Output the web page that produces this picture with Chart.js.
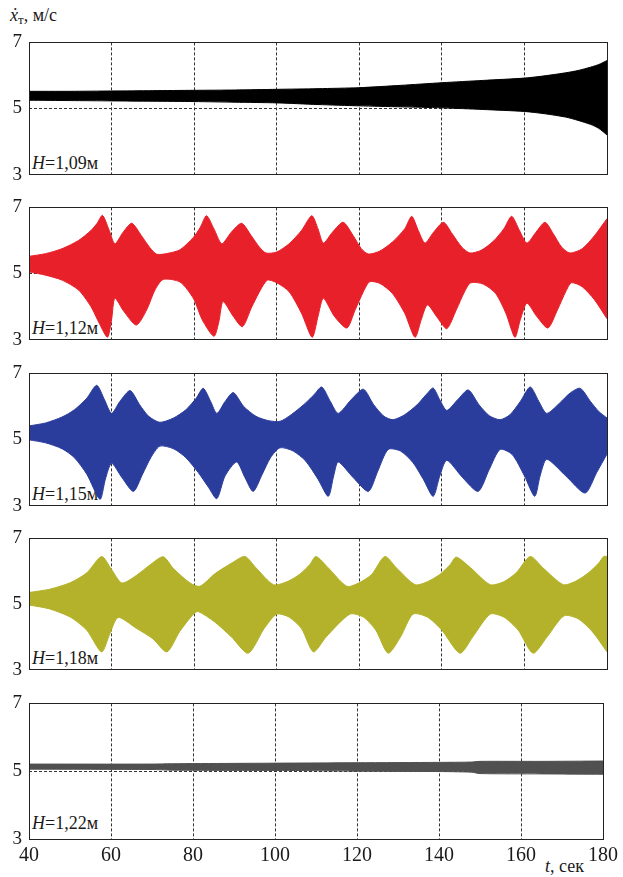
<!DOCTYPE html>
<html>
<head>
<meta charset="utf-8">
<script src="https://cdn.jsdelivr.net/npm/chart.js@4.4.1/dist/chart.umd.min.js"></script>
<style>
  body { margin: 0; background: #fff; width: 623px; height: 877px; position: relative; overflow: hidden;
         font-family: "Liberation Serif", "Times New Roman", "DejaVu Serif", serif; color: #1a1a1a; }
  .panel { position: absolute; left: 0; width: 623px; }
  .panel canvas { position: relative; z-index: 1; display: block; }
  .hlabel { position: absolute; left: 32px; font-size: 18px; line-height: 18px; z-index: 0; white-space: nowrap; }
  #ytitle { position: absolute; left: 10px; top: 5px; font-size: 18px; white-space: nowrap; }
  #ytitle sub { font-size: 13px; vertical-align: -3px; }
  #xtitle { position: absolute; left: 545px; top: 856px; font-size: 18px; white-space: nowrap; }
</style>
</head>
<body>
<div id="ytitle"><i>ẋ</i><sub>т</sub>, м/с</div>
<div id="xtitle"><i>t</i>, сек</div>
<script>
// envelope of the velocity oscillation, H = 1,09 м
const tBlack     = [40, 50, 60, 70, 80, 90, 100, 110, 120, 130, 140, 150, 160, 165, 170, 173, 176, 178, 180];
const blackUpper = [5.52, 5.52, 5.53, 5.54, 5.55, 5.56, 5.58, 5.60, 5.63, 5.70, 5.78, 5.85, 5.92, 5.99, 6.08, 6.15, 6.25, 6.33, 6.45];
const blackLower = [5.25, 5.24, 5.23, 5.22, 5.21, 5.19, 5.17, 5.12, 5.08, 5.05, 5.02, 4.97, 4.91, 4.84, 4.74, 4.64, 4.52, 4.40, 4.20];

// H = 1,12 м
const tRedTop = [40, 44, 48, 52, 55, 56.5, 57.8, 59.3, 60.8, 62.8, 64.9, 67.2, 69.3, 71, 74, 76.6, 79.8, 81.5, 83, 84.8, 86.7, 89, 91.5,
  93.8, 95.8, 97.4, 100, 103, 106, 108.5, 110, 111.3, 113.5, 116.1, 118.5, 120.5, 122.2, 125, 128, 131, 132.7, 134.3, 135.9,
  138, 140.4, 142.5, 144.8, 146.8, 149.5, 152.5, 155, 156.9, 158.8, 160.6, 162.8, 165, 167, 169, 171, 174, 177, 180];
const redTop = [5.52, 5.60, 5.75, 6.00, 6.30, 6.52, 6.76, 6.35, 5.90, 6.25, 6.52, 6.15, 5.78, 5.58, 5.62, 5.72, 6.09, 6.40, 6.75, 6.35, 5.90, 6.25, 6.52,
  6.15, 5.80, 5.62, 5.65, 5.90, 6.30, 6.75, 6.35, 5.92, 6.25, 6.55, 6.15, 5.75, 5.59, 5.68, 5.95, 6.35, 6.73, 6.30, 5.92,
  6.25, 6.55, 6.20, 5.80, 5.62, 5.70, 5.98, 6.35, 6.73, 6.30, 5.92, 6.25, 6.55, 6.20, 5.80, 5.62, 5.75, 6.15, 6.66];
const tRedBottom = [40, 44, 48, 52, 55, 57, 59, 60, 60.8, 63, 66, 68.5, 70.5, 72.5, 76.6, 79.8, 82, 84.8, 86, 87, 89.5, 91.7,
  94, 97.6, 100, 103, 106, 108.6, 110, 111.3, 114, 117, 119, 121, 122.5, 125, 128, 131, 133.5, 135, 136.5,
  139, 141.2, 143.5, 145.5, 147, 150, 153, 155.5, 157.7, 159, 160.6, 163, 165.7, 168, 170, 171.4, 174, 177, 180];
const redBottom = [5.05, 4.95, 4.80, 4.50, 4.00, 3.50, 3.07, 3.60, 4.25, 3.85, 3.44, 3.90, 4.50, 4.82, 4.74, 4.25, 3.59, 3.10, 3.55, 4.15, 3.70, 3.39,
  4.00, 4.79, 4.72, 4.45, 3.80, 3.07, 3.70, 4.25, 3.70, 3.35, 3.90, 4.45, 4.75, 4.70, 4.40, 3.80, 3.07, 3.60, 4.05,
  3.65, 3.33, 3.90, 4.45, 4.72, 4.68, 4.40, 3.80, 3.07, 3.60, 4.10, 3.70, 3.35, 3.90, 4.45, 4.72, 4.60, 4.20, 3.63];

// H = 1,15 м
const tBlueTop = [40, 44, 48, 51, 54, 56.4, 58.3, 60, 62, 64.5, 66.8, 69, 71.7, 75, 78, 80.5, 82.2, 84, 85.5, 87.5, 89.5, 92, 95, 98,
  100.8, 103.5, 106.5, 109, 110.9, 113, 114.9, 118, 121, 123.5, 126, 128.2, 131, 134, 136.5, 137.9, 139.5, 141.2, 143.8, 146.4,
  149, 151.5, 154.1, 156.5, 159, 161.4, 163.5, 165.4, 168.5, 171, 173.5, 176, 178, 180];
const blueTop = [5.41, 5.50, 5.68, 5.90, 6.25, 6.64, 6.20, 5.79, 6.15, 6.48, 6.05, 5.70, 5.52, 5.65, 5.90, 6.25, 6.55, 6.15, 5.79, 6.15, 6.42, 6.00, 5.70, 5.57,
  5.55, 5.75, 6.05, 6.35, 6.59, 6.15, 5.79, 6.20, 6.52, 6.05, 5.70, 5.60, 5.75, 6.05, 6.40, 6.56, 6.20, 5.88, 6.20, 6.50,
  6.05, 5.72, 5.60, 5.75, 6.15, 6.59, 6.15, 5.79, 6.10, 6.40, 6.55, 6.15, 5.85, 5.65];
const tBlueBottom = [40, 44, 48, 51, 54, 57.2, 58.5, 60, 62.5, 65.3, 67.5, 69.5, 71.7, 75, 78, 81, 83.5, 85.5, 87.5, 90.3, 92.3, 94.3,
  96.5, 98.5, 100.8, 104, 107, 110, 112.5, 113.8, 114.9, 118.5, 122.2, 124.5, 127, 130, 133, 135.5, 137.9, 139.5, 141.2, 145,
  148.8, 151.5, 154.1, 157, 160, 162.5, 163.8, 165.4, 170, 174.7, 177.5, 180];
const blueBottom = [4.99, 4.90, 4.72, 4.45, 3.95, 3.19, 3.80, 4.28, 3.85, 3.43, 3.95, 4.45, 4.80, 4.72, 4.45, 4.00, 3.55, 3.21, 3.90, 4.32, 3.85, 3.43,
  3.95, 4.45, 4.75, 4.65, 4.35, 3.80, 3.28, 3.90, 4.32, 3.85, 3.43, 4.05, 4.70, 4.65, 4.30, 3.80, 3.28, 3.90, 4.37, 3.85,
  3.43, 4.10, 4.70, 4.55, 3.90, 3.28, 3.90, 4.40, 3.90, 3.38, 4.00, 4.56];

// H = 1,18 м
const tOliveTop = [40, 45, 50, 54, 57.6, 60, 62.5, 66, 69.5, 72.5, 75, 79, 81.4, 85, 89, 92.3, 95, 99.2, 102.5, 105.5, 108, 109.5,
  112.5, 117, 120, 123, 126.2, 129, 133.5, 136.5, 139.5, 142, 143.5, 147, 151.7, 155, 158, 161.4, 164.5, 169.4, 172.5, 175.5, 178, 179.2, 180];
const oliveTop = [5.35, 5.45, 5.65, 5.95, 6.45, 6.05, 5.64, 5.87, 6.21, 6.44, 6.08, 5.64, 5.54, 5.92, 6.24, 6.45, 6.10, 5.59, 5.68, 5.90, 6.20, 6.45,
  6.10, 5.54, 5.65, 5.90, 6.45, 6.10, 5.59, 5.68, 5.90, 6.20, 6.43, 6.10, 5.59, 5.68, 5.95, 6.45, 6.10, 5.59, 5.70, 5.95, 6.25, 6.45, 6.45];
const tOliveBottom = [40, 45, 50, 54, 57.6, 59.6, 61.6, 66, 70, 73.4, 76.5, 79.8, 81, 85, 89, 93.1, 97, 100, 103, 106,
  108.9, 112, 117.7, 121, 124, 127, 130, 133, 136.5, 140, 144.4, 147.5, 151.7, 155, 158.5, 162.1, 165.5, 169.6, 173, 176.5, 180];
const oliveBottom = [4.97, 4.85, 4.60, 4.20, 3.54, 4.10, 4.59, 4.26, 3.94, 3.54, 4.16, 4.69, 4.77, 4.45, 4.00, 3.50, 4.26, 4.69, 4.60, 4.25,
  3.54, 4.00, 4.69, 4.60, 4.20, 3.50, 4.00, 4.69, 4.60, 4.20, 3.50, 4.00, 4.69, 4.60, 4.20, 3.50, 4.00, 4.64, 4.55, 4.15, 3.54];

// H = 1,22 м
const tGrey     = [40, 70, 75, 105, 120, 140, 148, 150, 165, 180];
const greyUpper = [5.21, 5.21, 5.22, 5.24, 5.25, 5.26, 5.27, 5.29, 5.29, 5.30];
const greyLower = [5.06, 5.05, 5.03, 5.02, 5.00, 4.99, 4.97, 4.93, 4.92, 4.91];

const xTicks = [40, 60, 80, 100, 120, 140, 160, 180];
const yTicks = [3, 5, 7];

const SERIF = '"Liberation Serif", "Times New Roman", "DejaVu Serif", serif';

// frame around each plot area
const frame = {
  id: 'frame',
  afterDatasetsDraw(chart) {
    const { ctx, chartArea: a } = chart;
    ctx.save();
    ctx.strokeStyle = '#222';
    ctx.lineWidth = 1;
    ctx.strokeRect(Math.round(a.left) + 0.5, Math.round(a.top) + 0.5,
      Math.round(a.right - a.left), Math.round(a.bottom - a.top));
    ctx.restore();
  }
};

function zip(xs, ys) {
  return xs.map((x, i) => ({ x: x, y: ys[i] }));
}

function makePanel(top, bottom, tTop, upper, tBottom, lower, color, label, withAxis) {
  const padTop = 14;
  const padBottom = withAxis ? 42 : 14;
  const h = bottom - top;

  const box = document.createElement('div');
  box.className = 'panel';
  box.style.top = (top - padTop) + 'px';
  box.style.height = (h + padTop + padBottom) + 'px';

  const lab = document.createElement('div');
  lab.className = 'hlabel';
  lab.innerHTML = '<i>H</i>=' + label;
  lab.style.top = (padTop + h - 25) + 'px';
  box.appendChild(lab);

  const cv = document.createElement('canvas');
  cv.width = 623;
  cv.height = h + padTop + padBottom;
  box.appendChild(cv);
  document.body.appendChild(box);

  const line = {
    borderColor: color,
    backgroundColor: color,
    borderWidth: 1,
    pointRadius: 0,
    tension: 0.25,
  };

  new Chart(cv, {
    type: 'line',
    data: {
      datasets: [
        Object.assign({ data: zip(tTop, upper), fill: '+1' }, line),
        Object.assign({ data: zip(tBottom, lower), fill: false }, line),
      ],
    },
    plugins: [frame],
    options: {
      responsive: false,
      animation: false,
      events: [],
      layout: { padding: { left: 0, right: 16, top: padTop, bottom: withAxis ? 12 : padBottom } },
      plugins: { legend: { display: false }, tooltip: { enabled: false } },
      scales: {
        x: {
          type: 'linear',
          min: 40,
          max: 180,
          afterBuildTicks: (s) => { s.ticks = xTicks.map((v) => ({ value: v })); },
          afterFit: (s) => { s.height = withAxis ? 30 : 0; },
          grid: {
            drawTicks: false,
            color: (c) => (c.tick && c.tick.value > 40 && c.tick.value < 180 ? '#333' : 'rgba(0,0,0,0)'),
          },
          border: { display: false, dash: [3, 2] },
          ticks: {
            display: withAxis,
            padding: 5,
            color: '#1a1a1a',
            font: { family: SERIF, size: 20 },
          },
        },
        y: {
          min: 3,
          max: 7,
          afterBuildTicks: (s) => { s.ticks = yTicks.map((v) => ({ value: v })); },
          afterFit: (s) => { s.width = 29; },
          grid: {
            drawTicks: false,
            color: (c) => (c.tick && c.tick.value === 5 ? '#333' : 'rgba(0,0,0,0)'),
          },
          border: { display: false, dash: [3, 2] },
          ticks: {
            padding: 7,
            color: '#1a1a1a',
            font: { family: SERIF, size: 19 },
          },
        },
      },
    },
  });
}

makePanel(38, 179, tBlack, blackUpper, tBlack, blackLower, '#000000', '1,09м', false);
makePanel(203, 344, tRedTop, redTop, tRedBottom, redBottom, '#e8202a', '1,12м', false);
makePanel(369, 510, tBlueTop, blueTop, tBlueBottom, blueBottom, '#2b3d9c', '1,15м', false);
makePanel(534, 674, tOliveTop, oliveTop, tOliveBottom, oliveBottom, '#b3b22a', '1,18м', false);
makePanel(699, 839, tGrey, greyUpper, tGrey, greyLower, '#505050', '1,22м', true);
</script>
</body>
</html>
